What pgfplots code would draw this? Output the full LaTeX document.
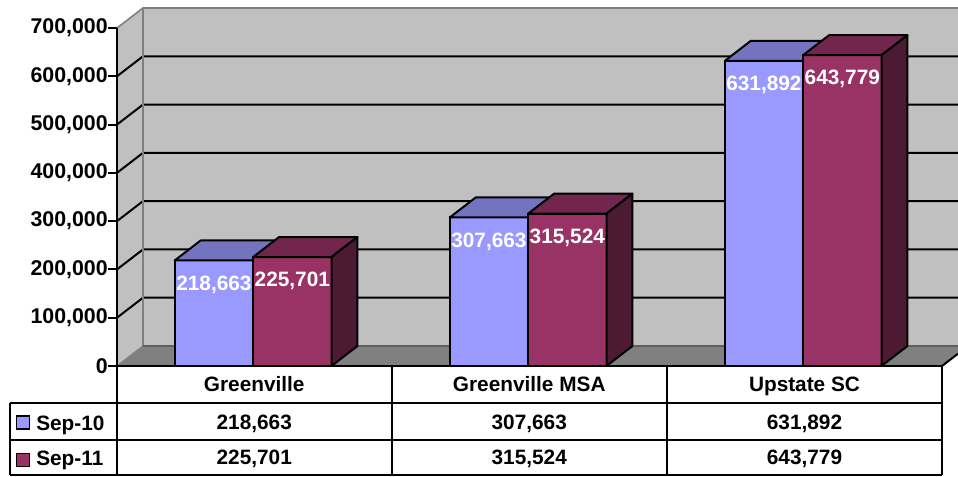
\documentclass[border=0pt]{standalone}
\usepackage{pgfplots}
\pgfplotsset{compat=1.18}
\usepackage{pgfplotstable}
\usepackage{fontspec}
\setmainfont{Liberation Sans}

\definecolor{wallc}{HTML}{C0C0C0}
\definecolor{floorc}{HTML}{808080}
\definecolor{edgec}{HTML}{808080}
\definecolor{floorline}{HTML}{5F5F5F}
\definecolor{bluef}{HTML}{9999FF}
\definecolor{bluet}{HTML}{7373BF}
\definecolor{marf}{HTML}{993366}
\definecolor{mart}{HTML}{73264D}
\definecolor{mars}{HTML}{4D1A33}

% x = category index, y = value
\pgfplotstableread{
x y
0 218663
1 307663
2 631892
}\septen
\pgfplotstableread{
x y
0 225701
1 315524
2 643779
}\sepeleven

\newcommand\tfont{\bfseries\fontsize{15.6}{18}\selectfont}
\newcommand\tkfont{\bfseries\fontsize{16}{18}\selectfont}
\newcommand\tv[2]{\pgfplotstablegetelem{#1}{y}\of#2\pgfmathprintnumber[fixed,precision=0,1000 sep={,},assume math mode=true]{\pgfplotsretval}}

\pgfplotsset{
  face/.style={fill=#1, draw=black, line width=1.5pt, line join=round, forget plot, mark=none},
  barlabel/.style={
    nodes near coords={\pgfmathprintnumber[fixed,precision=0,1000 sep={,},assume math mode=true]{\pgfplotspointmeta}},
    every node near coord/.append style={font=\tfont, text=white, anchor=base, inner sep=0pt, xshift=#1, yshift=-22.2pt},
  },
}

\begin{document}
\begin{tikzpicture}
\useasboundingbox (0,0) rectangle (718.5pt,357pt);
\begin{scope}[x=0.75pt,y=0.75pt]
  % back wall, side wall, floor
  \fill[wallc] (143,130) rectangle (958,468);
  \fill[wallc] (117,110) -- (143,130) -- (143,468) -- (117,448) -- cycle;
  \fill[floorc] (117,110) -- (143,130) -- (958,130) -- (958,122.3) -- (942,110) -- cycle;
  % gridlines
  \foreach \yy in {158.29,206.57,254.86,303.14,351.43,399.71}
    \draw[black,line width=1.5pt] (117,\yy) -- (143,\yy+20) -- (958,\yy+20);
  % edges
  \draw[edgec,line width=1.2pt] (117,448) -- (143,468) -- (958,468);
  \draw[edgec,line width=1.2pt] (143,468) -- (143,130);
  \draw[edgec,line width=1pt] (117,110) -- (143,130);
  \draw[floorline,line width=1.2pt] (143,130) -- (958,130);
  \draw[black,line width=1.5pt] (942,110) -- (958,122.3);
  \coordinate (AO) at (117,110);
\end{scope}

\begin{axis}[
  at={(AO)}, anchor=south west,
  scale only axis, width=618.75pt, height=253.5pt,
  xmin=-0.5, xmax=2.5, ymin=0, ymax=700000,
  axis lines=left, axis line style={-, line width=1.5pt, black},
  xtick=\empty,
  scaled y ticks=false,
  ytick={0,100000,200000,300000,400000,500000,600000,700000},
  yticklabels={0,{100,000},{200,000},{300,000},{400,000},{500,000},{600,000},{700,000}},
  yticklabel style={font=\tkfont, inner sep=0pt, anchor=east},
  tick align=outside, major tick length=6.75pt,
  tick style={black, line width=1.5pt},
  clip=false,
]
% ---- Sep-10: front faces (data) and top faces
\addplot[ybar, bar width=0.285, bar shift=-0.1475, fill=bluef, draw=black, line width=1.5pt, barlabel=-30.42pt] table[x=x, y=y] {\septen};
\addplot[face=bluet] coordinates {(-0.29,218663) (-0.005,218663) (0.0895,260083) (-0.1955,260083)} -- cycle;
\addplot[face=bluet] coordinates {(0.71,307663) (0.995,307663) (1.0895,349083) (0.8045,349083)} -- cycle;
\addplot[face=bluet] coordinates {(1.71,631892) (1.995,631892) (2.0895,673312) (1.8045,673312)} -- cycle;
% ---- Sep-11: front faces (data), top and side faces
\addplot[ybar, bar width=0.285, bar shift=0.1375, fill=marf, draw=black, line width=1.5pt, barlabel=28.36pt] table[x=x, y=y] {\sepeleven};
\addplot[face=mart] coordinates {(-0.005,225701) (0.28,225701) (0.3745,267121) (0.0895,267121)} -- cycle;
\addplot[face=mars] coordinates {(0.28,0) (0.28,225701) (0.3745,267121) (0.3745,41420)} -- cycle;
\addplot[face=mart] coordinates {(0.995,315524) (1.28,315524) (1.3745,356944) (1.0895,356944)} -- cycle;
\addplot[face=mars] coordinates {(1.28,0) (1.28,315524) (1.3745,356944) (1.3745,41420)} -- cycle;
\addplot[face=mart] coordinates {(1.995,643779) (2.28,643779) (2.3745,685199) (2.0895,685199)} -- cycle;
\addplot[face=mars] coordinates {(2.28,0) (2.28,643779) (2.3745,685199) (2.3745,41420)} -- cycle;
\end{axis}

\begin{scope}[x=0.75pt,y=0.75pt]
  \draw[black,line width=1.5pt] (10,73) -- (942,73) (10,36) -- (942,36) (10,1) -- (942,1);
  \draw[black,line width=1.5pt] (10,73) -- (10,1);
  \foreach \xx in {117,391.5,667,942} \draw[black,line width=1.5pt] (\xx,110) -- (\xx,1);
  \begin{scope}[every node/.style={font=\tfont, inner sep=0pt, anchor=base}]
    \node at (254.25,84.3) {Greenville};
    \node at (529.25,84.3) {Greenville MSA};
    \node at (804.5,84.3) {Upstate SC};
    \node at (254.25,47) {\tv{0}{\septen}};
    \node at (529.25,47) {\tv{1}{\septen}};
    \node at (804.5,47) {\tv{2}{\septen}};
    \node at (254.25,11.7) {\tv{0}{\sepeleven}};
    \node at (529.25,11.7) {\tv{1}{\sepeleven}};
    \node at (804.5,11.7) {\tv{2}{\sepeleven}};
    \node[anchor=base west] at (36,46) {Sep-10};
    \node[anchor=base west] at (36,10.5) {Sep-11};
  \end{scope}
  \filldraw[fill=bluef, draw=black, line width=1.1pt] (16.5,46.8) rectangle (29.5,60.2);
  \filldraw[fill=marf, draw=black, line width=1.1pt] (16.5,9.3) rectangle (29.5,22.7);
\end{scope}
\end{tikzpicture}
\end{document}
